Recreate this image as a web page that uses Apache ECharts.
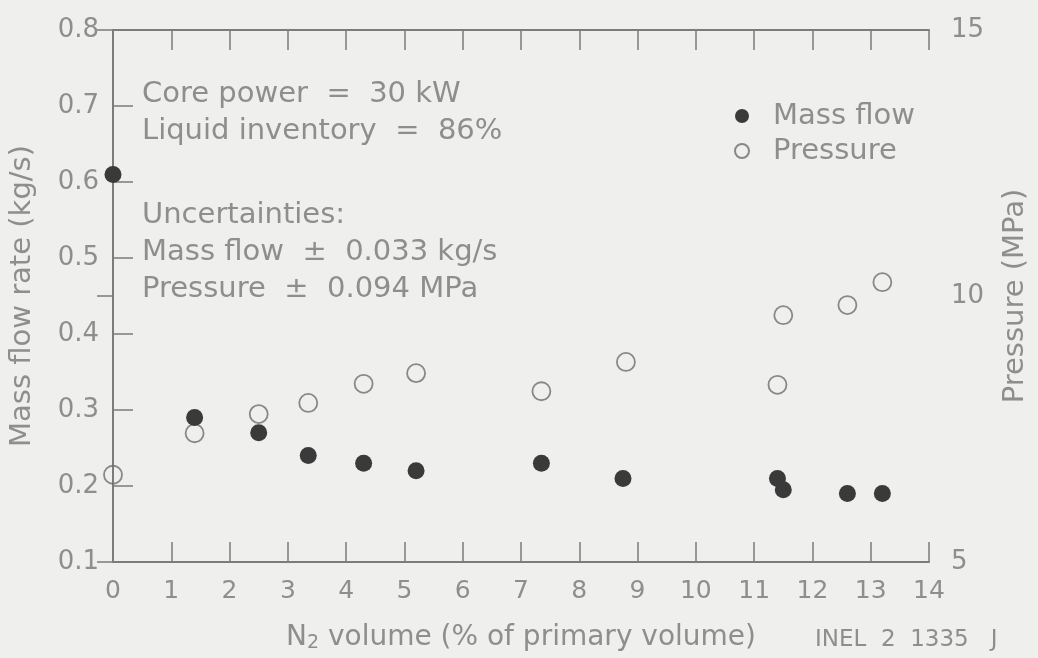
<!DOCTYPE html>
<html>
<head>
<meta charset="utf-8">
<script src="https://cdn.jsdelivr.net/npm/echarts@6/dist/echarts.min.js"></script>
<style>
  html, body { margin: 0; padding: 0; background: #efefed; }
  #chart { width: 1038px; height: 658px; }
</style>
</head>
<body>
<div id="chart"></div>
<script>
// N2 volume (% of primary volume) for each measurement
const n2Volume = [0, 1.4, 2.5, 3.35, 4.3, 5.2, 7.35, 8.75, 11.4, 11.5, 12.6, 13.2];
// Mass flow rate (kg/s) at each N2 volume
const massFlow = [0.61, 0.29, 0.27, 0.24, 0.23, 0.22, 0.23, 0.21, 0.21, 0.195, 0.19, 0.19];
// Pressure (MPa) at each N2 volume
const pressureN2 = [0, 1.4, 2.5, 3.35, 4.3, 5.2, 7.35, 8.8, 11.4, 11.5, 12.6, 13.2];
const pressure = [6.64, 7.42, 7.78, 7.99, 8.35, 8.55, 8.21, 8.76, 8.33, 9.64, 9.83, 10.26];

const notes = [
  'Core power  =  30 kW',
  'Liquid inventory  =  86%',
  'Uncertainties:',
  'Mass flow  \u00b1  0.033 kg/s',
  'Pressure  \u00b1  0.094 MPa'
];

const FONT = 'DejaVu Sans';
const TXT = '#8e8e8e';
const LINE = '#7c7c7c';

const chart = echarts.init(document.getElementById('chart'), null, { renderer: 'canvas' });

// vertical centres of the note lines
const noteY = [96, 133, 217, 254, 291];

chart.setOption({
  backgroundColor: '#efefed',
  animation: false,
  grid: { left: 112, right: 103, top: 30, bottom: 96, containLabel: false },
  legend: {
    orient: 'vertical',
    left: 729,
    top: 96,
    itemGap: 5,
    itemWidth: 16,
    itemHeight: 14,
    icon: 'circle',
    textStyle: { fontFamily: FONT, fontSize: 29, lineHeight: 30, color: TXT, padding: [0, 0, 0, 18] },
    data: ['Mass flow', 'Pressure']
  },
  xAxis: [
    {
      type: 'value', min: 0, max: 14, interval: 1, position: 'bottom',
      axisLine: { lineStyle: { color: LINE, width: 2 } },
      axisTick: { inside: true, length: 20, lineStyle: { color: LINE, width: 1.5 } },
      axisLabel: { fontFamily: FONT, fontSize: 25, color: TXT, margin: 17 },
      splitLine: { show: false },
      name: '{n|N}{s|2}{n| volume (% of primary volume)}',
      nameLocation: 'middle',
      nameGap: 60,
      nameTextStyle: {
        rich: {
          n: { fontFamily: FONT, fontSize: 28, color: TXT },
          s: { fontFamily: FONT, fontSize: 19, color: TXT, verticalAlign: 'bottom', padding: [12, 0, 0, 0] }
        }
      }
    },
    {
      type: 'value', min: 0, max: 14, interval: 1, position: 'top',
      axisLine: { show: true, lineStyle: { color: LINE, width: 2 } },
      axisTick: { inside: true, length: 20, lineStyle: { color: LINE, width: 1.5 } },
      axisLabel: { show: false },
      splitLine: { show: false }
    }
  ],
  yAxis: [
    {
      type: 'value', min: 0.1, max: 0.8, interval: 0.1, position: 'left',
      axisLine: { show: true, lineStyle: { color: LINE, width: 2 } },
      axisTick: { inside: true, length: 20, lineStyle: { color: LINE, width: 1.5 } },
      axisLabel: { fontFamily: FONT, fontSize: 26, color: TXT, margin: 14, formatter: v => v.toFixed(1) },
      splitLine: { show: false },
      name: 'Mass flow rate (kg/s)',
      nameLocation: 'middle',
      nameGap: 76,
      nameTextStyle: { fontFamily: FONT, fontSize: 29, color: TXT }
    },
    {
      type: 'value', min: 5, max: 15, interval: 5, position: 'right',
      axisLine: { show: true, lineStyle: { color: LINE, width: 2 } },
      axisTick: { inside: true, length: 16, lineStyle: { color: LINE, width: 1.5 } },
      axisLabel: { fontFamily: FONT, fontSize: 26, color: TXT, margin: 22 },
      splitLine: { show: false },
      name: 'Pressure (MPa)',
      nameLocation: 'middle',
      nameGap: 72,
      nameRotate: 90,
      nameTextStyle: { fontFamily: FONT, fontSize: 29, color: TXT }
    }
  ],
  graphic: [
    ...notes.map((t, i) => ({
      type: 'text',
      left: 142,
      top: noteY[i] - 16,
      style: { text: t, font: '29px "DejaVu Sans"', fill: TXT }
    })),
    {
      type: 'text',
      left: 815,
      top: 629,
      style: { text: 'INEL  2  1335   J', font: '23px "DejaVu Sans"', fill: TXT }
    }
  ],
  series: [
    {
      name: 'Mass flow',
      type: 'scatter',
      xAxisIndex: 0,
      yAxisIndex: 0,
      symbol: 'circle',
      symbolSize: 17,
      itemStyle: { color: '#3a3a3a', opacity: 1 },
      data: n2Volume.map((x, i) => [x, massFlow[i]]),
      z: 3
    },
    {
      name: 'Pressure',
      type: 'scatter',
      xAxisIndex: 0,
      yAxisIndex: 1,
      symbol: 'circle',
      symbolSize: 18,
      itemStyle: { color: 'rgba(0,0,0,0)', borderColor: '#6e6e6e', borderWidth: 1.8 },
      data: pressureN2.map((x, i) => [x, pressure[i]]),
      z: 2
    }
  ]
});
</script>
</body>
</html>
